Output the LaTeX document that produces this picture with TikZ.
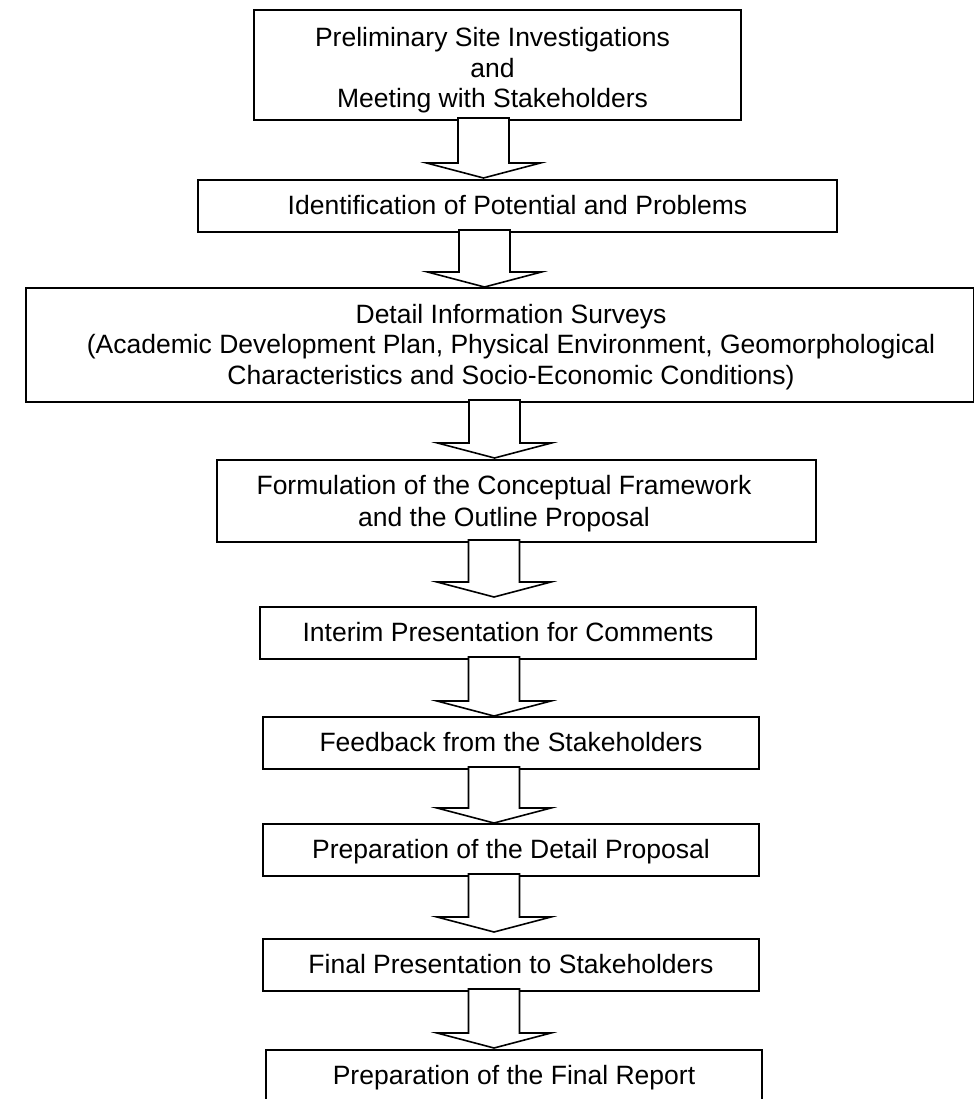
\documentclass[tikz,border=0pt]{standalone}
\usepackage{fontspec}
\setmainfont{Liberation Sans}
\usetikzlibrary{calc}
\tikzset{
  box/.style={draw=black, line width=1.6pt, fill=white, inner sep=0pt, outer sep=0pt,
    align=center, text depth=0.21em, font=\fontsize{26.5}{30.5}\selectfont},
  boxtext/.style={inner sep=0pt, outer sep=0pt, align=center, text depth=0.21em,
    font=\fontsize{26.5}{30.5}\selectfont},
  blockarrow/.style={draw=black, line width=1.6pt, fill=white, line join=miter},
}
% #1 upper node, #2 lower node, #3 centre x (px), #4 gap between tip and lower box (px)
\newcommand\barrow[4]{%
  \draw[blockarrow] let \p1=(#1.south), \p2=(#2.north) in
    ({(#3-25.5)*1pt},{\y1+2pt}) -- ({(#3-25.5)*1pt},{\y2+(#4+15)*1pt})
    -- ({(#3-57)*1pt},{\y2+(#4+15)*1pt}) -- ({#3*1pt},{\y2+#4*1pt})
    -- ({(#3+57)*1pt},{\y2+(#4+15)*1pt}) -- ({(#3+25.5)*1pt},{\y2+(#4+15)*1pt})
    -- ({(#3+25.5)*1pt},{\y1+2pt}) -- cycle;
}
\begin{document}
\begin{tikzpicture}[x=1pt,y=-1pt]
\useasboundingbox (0,0) rectangle (975,1099);
\node[box, minimum width=487, minimum height=110] (b1) at (497.5,65) {};
\node[boxtext] (t1) at (492.5,68.5)
  {Preliminary Site Investigations\\and\\Meeting with Stakeholders};
\node[box, minimum width=639, minimum height=52] (b2) at (517.5,206)
  {Identification of Potential and Problems};
\node[box, minimum width=947.5, minimum height=114] (b3) at (499.75,345) {};
\node[boxtext] (t3) at (511,345)
  {Detail Information Surveys\\(Academic Development Plan, Physical Environment, Geomorphological\\Characteristics and Socio-Economic Conditions)};
\node[box, minimum width=599, minimum height=82] (b4) at (516.5,501) {};
\node[boxtext, font=\fontsize{26.5}{32}\selectfont] (t4) at (504,502)
  {Formulation of the Conceptual Framework\\and the Outline Proposal};
\node[box, minimum width=496, minimum height=52] (b5) at (508,633)
  {Interim Presentation for Comments};
\node[box, minimum width=496, minimum height=52] (b6) at (511,743)
  {Feedback from the Stakeholders};
\node[box, minimum width=496, minimum height=52] (b7) at (511,850)
  {Preparation of the Detail Proposal};
\node[box, minimum width=496, minimum height=52] (b8) at (511,965)
  {Final Presentation to Stakeholders};
\node[box, minimum width=496, minimum height=52] (b9) at (514,1076)
  {Preparation of the Final Report};
\barrow{b1}{b2}{483.5}{2}
\barrow{b2}{b3}{484.5}{1}
\barrow{b3}{b4}{494.5}{2}
\barrow{b4}{b5}{494}{10}
\barrow{b5}{b6}{494}{1}
\barrow{b6}{b7}{494}{1}
\barrow{b7}{b8}{494}{7}
\barrow{b8}{b9}{494}{2}
\end{tikzpicture}
\end{document}
